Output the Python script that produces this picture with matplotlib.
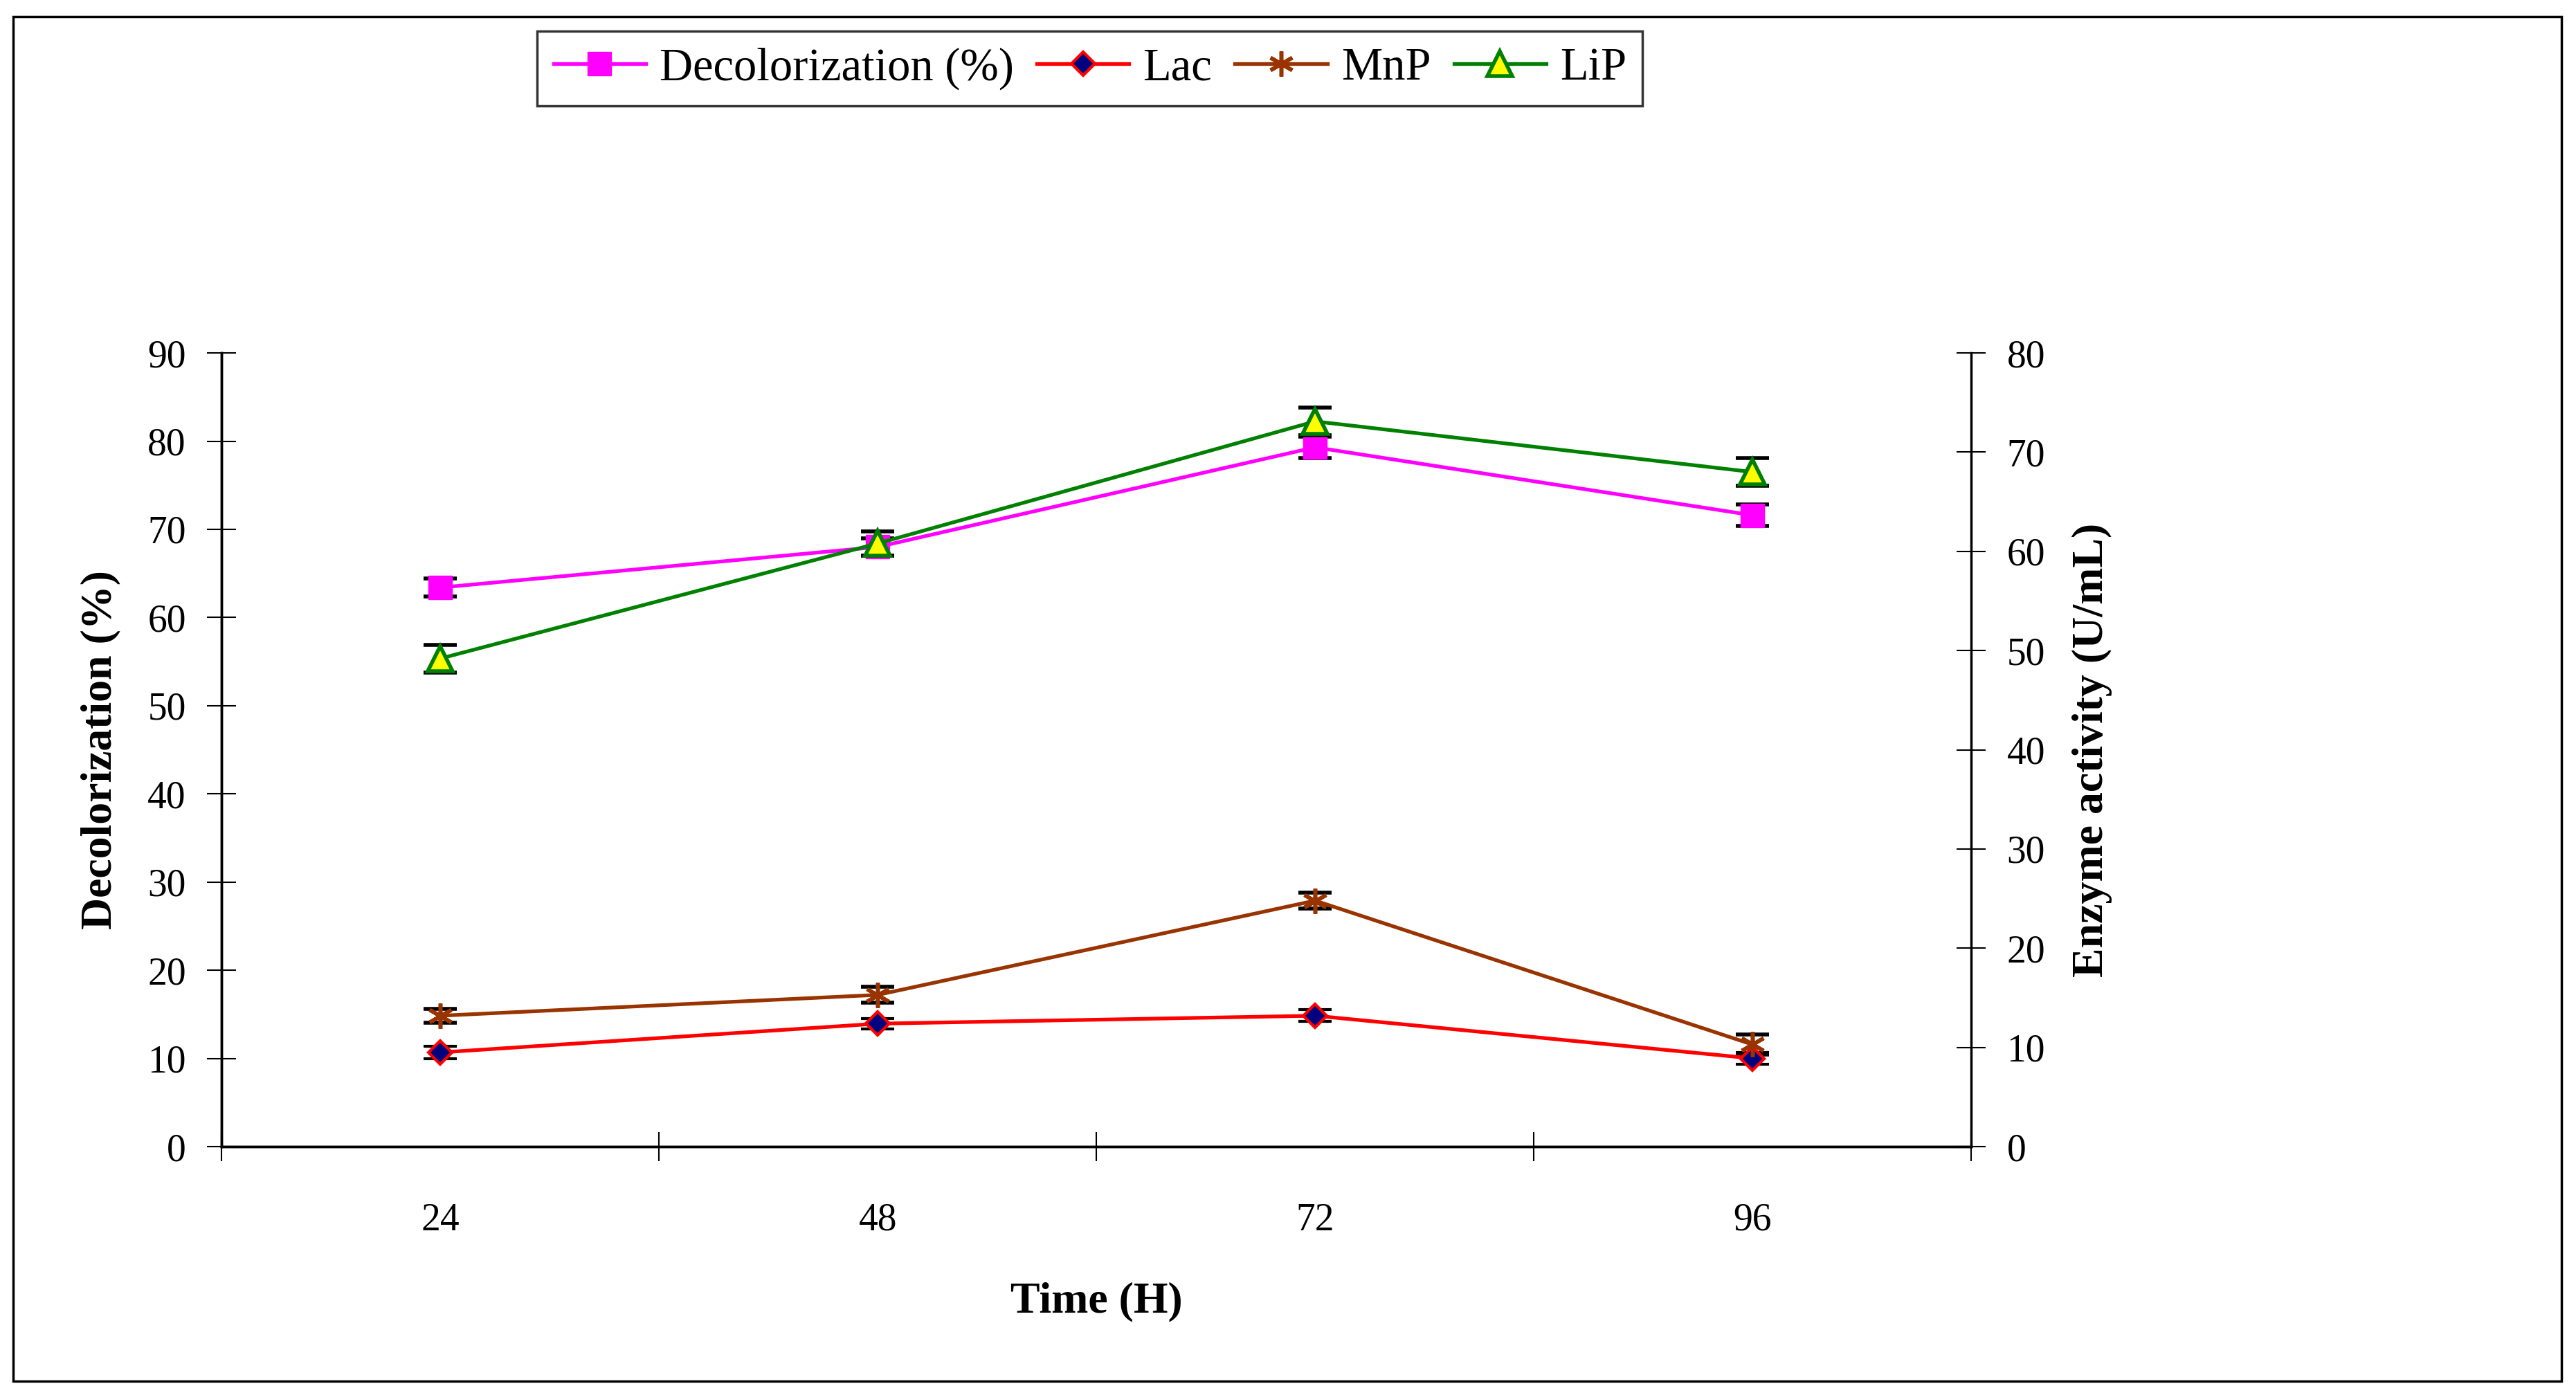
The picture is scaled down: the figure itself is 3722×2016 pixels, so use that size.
import numpy as np
import matplotlib.pyplot as plt
from matplotlib.patches import Rectangle

plt.rcParams['font.family'] = ['Liberation Serif', 'DejaVu Serif']

# dados
tempo = ['24', '48', '72', '96']
descoloracao = [63.4, 68.0, 79.3, 71.6]
descoloracao_err = [1.0, 1.0, 1.2, 1.2]
lac = [9.5, 12.4, 13.2, 8.9]
lac_err = [0.6, 0.5, 0.6, 0.6]
mnp = [13.2, 15.3, 24.8, 10.3]
mnp_err = [0.7, 0.8, 0.8, 1.0]
lip = [49.2, 60.8, 73.1, 68.0]
lip_err = [1.4, 1.2, 1.4, 1.4]

x = np.arange(1, len(tempo) + 1)

fig = plt.figure(figsize=(37.23, 20.16), dpi=100)
ax = fig.add_axes([0.086, 0.178, 0.679, 0.569])
ax2 = ax.twinx()

fs = 40      # rótulos dos ticks
fs_lab = 46  # títulos dos eixos
fs_leg = 48  # legenda
lw = 3.8
ebk = dict(ecolor='black', elinewidth=3, capsize=17, capthick=4, zorder=3)

l1 = ax.errorbar(x, descoloracao, yerr=descoloracao_err, color='#ff00ff', lw=lw,
                 marker='s', ms=24, mfc='#ff00ff', mec='#ff00ff', **ebk)
l2 = ax2.errorbar(x, lac, yerr=lac_err, color='#ff0000', lw=lw,
                  marker='D', ms=17, mfc='#000080', mec='#ff0000', mew=3, **ebk)
l3 = ax2.errorbar(x, mnp, yerr=mnp_err, color='#993300', lw=lw,
                  marker=(6, 2, 0), ms=26, mec='#993300', mew=4, **ebk)
l4 = ax2.errorbar(x, lip, yerr=lip_err, color='#008000', lw=lw,
                  marker='^', ms=26, mfc='#ffff00', mec='#008000', mew=4, **ebk)

ax.set_xlim(0.5, 4.5)
ax.set_ylim(0, 90)
ax2.set_ylim(0, 80)
ax.set_yticks(np.arange(0, 91, 10))
ax2.set_yticks(np.arange(0, 81, 10))

# eixo x tipo categoria: marcas entre as categorias
ax.set_xticks(np.arange(0.5, 4.6, 1.0))
ax.set_xticklabels([])
ax.set_xticks(x, minor=True)
ax.set_xticklabels(tempo, minor=True)
ax.tick_params(axis='x', which='minor', length=0, pad=58, labelsize=fs)
ax.tick_params(axis='x', which='major', direction='inout', length=30, width=1.5)
ax.tick_params(axis='y', direction='inout', length=30, width=1.5, labelsize=fs, pad=22)
ax2.tick_params(axis='y', direction='inout', length=30, width=1.5, labelsize=fs, pad=22)

for a in (ax, ax2):
    a.spines['top'].set_visible(False)
    for s in ('left', 'right', 'bottom'):
        a.spines[s].set_linewidth(2.5)
ax.spines['right'].set_visible(False)

ax.set_xlabel('Time (H)', fontsize=fs_lab, fontweight='bold', labelpad=45)
ax.set_ylabel('Decolorization (%)', fontsize=fs_lab, fontweight='bold', labelpad=28)
ax2.set_ylabel('Enzyme activity (U/mL)', fontsize=fs_lab, fontweight='bold', labelpad=28)

handles = [l1[0], l2[0], l3[0], l4[0]]
labels = ['Decolorization (%)', 'Lac', 'MnP', 'LiP']
leg = fig.legend(handles, labels, loc='center', bbox_to_anchor=(0.423, 0.951), ncol=4,
                 fontsize=fs_leg, frameon=True, fancybox=False, edgecolor='black',
                 handlelength=2.0, handletextpad=0.3, columnspacing=0.5, borderpad=0.35)
leg.get_frame().set_linewidth(2.5)

# moldura externa
fig.patches.append(Rectangle((0.005, 0.01), 0.989, 0.978, transform=fig.transFigure,
                             fill=False, edgecolor='black', lw=2.5))

fig.savefig('out.png', dpi=100)
